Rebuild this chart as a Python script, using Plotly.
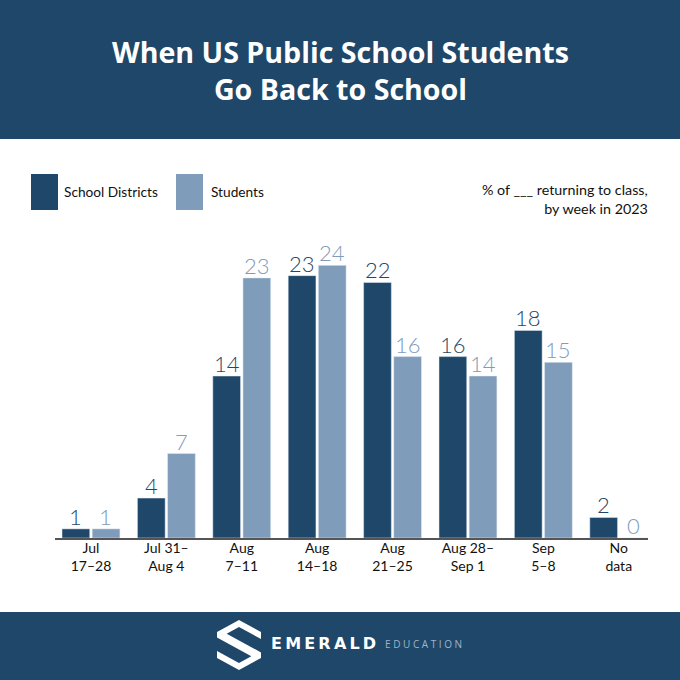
import plotly.graph_objects as go

weeks = ["Jul<br>17–28", "Jul 31–<br>Aug 4", "Aug<br>7–11", "Aug<br>14–18", "Aug<br>21–25",
         "Aug 28–<br>Sep 1", "Sep<br>5–8", "No<br>data"]
# bar heights as measured, the printed labels are rounded
districts = [0.8, 3.5, 14.2, 23, 22.4, 15.9, 18.2, 1.8]
students = [0.8, 7.4, 22.8, 23.9, 15.9, 14.2, 15.4, 0]
district_labels = [1, 4, 14, 23, 22, 16, 18, 2]
student_labels = [1, 7, 23, 24, 16, 14, 15, 0]

DARK = "#1f4769"
LIGHT = "#7f9cba"
W = H = 680
# plot area in pixels
L, R, T, B = 55, 648, 230, 538


def px_x(x):
    return (x - L) / (R - L)


def px_y(y):
    return (B - y) / (B - T)


def rect(x0, y0, x1, y1, color):
    return dict(type="rect", xref="paper", yref="paper", x0=px_x(x0), x1=px_x(x1),
                y0=px_y(y0), y1=px_y(y1), fillcolor=color, line_width=0, layer="below")


def poly(points, color):
    path = "M " + " L ".join(f"{px_x(x):.5f} {px_y(y):.5f}" for x, y in points) + " Z"
    return dict(type="path", xref="paper", yref="paper", path=path, fillcolor=color, line_width=0)


def label(x, y, text, size, color="#111111", family="Lato", xanchor="center", align="center", weight=None):
    return dict(xref="paper", yref="paper", x=px_x(x), y=px_y(y), text=text, showarrow=False,
                xanchor=xanchor, yanchor="middle", align=align,
                font=dict(family=family, size=size, color=color, weight=weight))


fig = go.Figure()
fig.add_trace(go.Bar(x=weeks, y=districts, name="School Districts", marker_color=DARK))
fig.add_trace(go.Bar(x=weeks, y=students, name="Students", marker_color=LIGHT))

shapes = [
    rect(0, 0, 680, 139, DARK),
    rect(0, 612, 680, 680, DARK),
    rect(31, 174, 58, 210, DARK),
    rect(176, 174, 203, 210, LIGHT),
    # logo
    poly([(239, 620), (261, 632), (261, 639), (239, 627), (226.7, 633.7), (261, 652.4), (261, 658), (239, 670),
          (217, 658), (217, 651), (239, 663), (251.3, 656.3), (217, 637.6), (217, 632)], "white"),
]

annotations = [
    label(340, 69.5, "When US Public School Students<br>Go Back to School", 28.6, "white", "Open Sans", weight=700),
    label(62, 191, "School Districts", 13.7, xanchor="left", align="left"),
    label(209, 191, "Students", 13.7, xanchor="left", align="left"),
    label(649.5, 199, "% of ___ returning to class,<br>by week in 2023", 14.3, xanchor="right", align="right"),
    label(269, 643, "E\u2009M\u2009E\u2009R\u2009A\u2009L\u2009D", 16, "white", "DejaVu Sans", xanchor="left", weight=700),
    label(383, 644, "E D U C A T I O N", 10, "#9fb4c9", "Open Sans", xanchor="left"),
]

# value labels sit closer to the bars than bar text allows
for week, dv, dl, sv, sl in zip(weeks, districts, district_labels, students, student_labels):
    for value, text, color, shift in ((dv, dl, DARK, -15), (sv, sl, LIGHT, 15)):
        annotations.append(dict(x=week, y=value, text=str(text), showarrow=False, xshift=shift, yshift=-3,
                                yanchor="bottom", font=dict(family="Lato", size=22, color=color, weight=300)))

fig.update_layout(
    width=W, height=H, margin=dict(l=L, r=W - R, t=T, b=H - B),
    paper_bgcolor="white", plot_bgcolor="white", showlegend=False,
    barmode="group", bargap=0.2, bargroupgap=0.08,
    shapes=shapes, annotations=annotations,
    xaxis=dict(type="category", range=[-0.477, 7.388], showgrid=False, ticks="",
               showline=True, linecolor="#555555", linewidth=2, ticklabelstandoff=-4,
               tickfont=dict(family="Lato", size=14, color="#111111")),
    yaxis=dict(range=[0, 27], visible=False),
)

# page margin would push the figure off the window
fig.write_html("out.html", config={"displayModeBar": False}, post_script="document.body.style.margin = '0';")
